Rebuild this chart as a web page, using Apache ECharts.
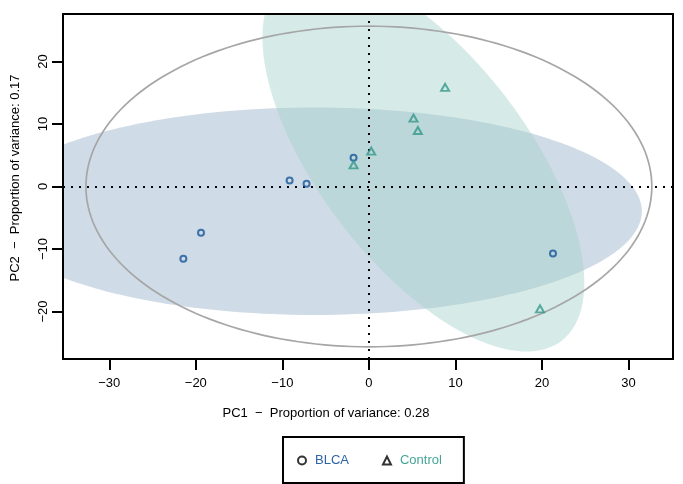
<!DOCTYPE html>
<html>
<head>
<meta charset="utf-8">
<script src="https://cdn.jsdelivr.net/npm/echarts@6/dist/echarts.min.js"></script>
<style>html,body{margin:0;padding:0;background:#fff}#c{width:683px;height:484px}</style>
</head>
<body>
<div id="c"></div>
<script>
// ---- data ----
const blcaPC1 = [-21.44, -19.4, -9.16, -7.2, -1.77, 21.28];
const blcaPC2 = [-11.57, -7.4, 0.96, 0.43, 4.59, -10.72];
const controlPC1 = [-1.77, 0.27, 5.16, 5.66, 8.81, 19.78];
const controlPC2 = [3.47, 5.66, 10.94, 8.96, 15.87, -19.57];
// ellipses: centre x, centre y, half-extent x, half-extent y, correlation
const blcaEllipse = [-6.3, -3.95, 37.85, 16.6, 0.0];
const controlEllipse = [6.3, 4.2, 18.6, 30.6, -0.641];
const overallEllipse = [0, 0, 32.7, 25.65, 0.0];
const xTicks = [-30, -20, -10, 0, 10, 20, 30];
const yTicks = [-20, -10, 0, 10, 20];
const groups = ['BLCA', 'Control'];
const xTitle = 'PC1  \u2212  Proportion of variance: 0.28';
const yTitle = 'PC2  \u2212  Proportion of variance: 0.17';

const FONT = 'Liberation Sans, Arial, sans-serif';
const minus = v => String(v).replace('-', '\u2212');

function ellipseSeries(par, fill, stroke, lw) {
  return {
    type: 'custom', silent: true, clip: true,
    data: [par],
    renderItem: function (params, api) {
      const [cx, cy, a, b, r] = par;
      const pts = [];
      const s = Math.sqrt(1 - r * r);
      for (let i = 0; i < 200; i++) {
        const t = i / 200 * Math.PI * 2;
        pts.push(api.coord([cx + a * Math.cos(t), cy + b * (r * Math.cos(t) + s * Math.sin(t))]));
      }
      const cs = params.coordSys;
      return {
        type: 'polygon',
        shape: { points: pts },
        style: { fill: fill, stroke: stroke, lineWidth: lw },
        clipPath: { type: 'rect', shape: { x: cs.x, y: cs.y, width: cs.width, height: cs.height } }
      };
    }
  };
}

const xMin = -35.35, xMax = 35.15, yMin = -27.6, yMax = 27.6;

const chart = echarts.init(document.getElementById('c'), null, { renderer: 'canvas' });
chart.setOption({
  animation: false,
  backgroundColor: '#fff',
  textStyle: { fontFamily: FONT },
  grid: { left: 63, right: 10, top: 14, bottom: 125, show: false },
  xAxis: [{
    type: 'value', min: xMin, max: xMax, position: 'bottom', z: 10,
    splitLine: { show: false },
    axisLine: { show: true, onZero: false, lineStyle: { color: '#000', width: 2 } },
    axisTick: { show: true, customValues: xTicks, length: 11, lineStyle: { color: '#000', width: 2 } },
    axisLabel: { customValues: xTicks, margin: 18, fontSize: 13, color: '#000', fontFamily: FONT, formatter: minus }
  }, {
    type: 'value', min: xMin, max: xMax, position: 'top', z: 10,
    splitLine: { show: false },
    axisLine: { show: true, onZero: false, lineStyle: { color: '#000', width: 2 } },
    axisTick: { show: false }, axisLabel: { show: false }
  }],
  yAxis: [{
    type: 'value', min: yMin, max: yMax, position: 'left', z: 10,
    splitLine: { show: false },
    axisLine: { show: true, onZero: false, lineStyle: { color: '#000', width: 2 } },
    axisTick: { show: true, customValues: yTicks, length: 11, lineStyle: { color: '#000', width: 2 } },
    axisLabel: { customValues: yTicks, margin: 13, rotate: 90, fontSize: 13, color: '#000', fontFamily: FONT, formatter: minus }
  }, {
    type: 'value', min: yMin, max: yMax, position: 'right', z: 10,
    splitLine: { show: false },
    axisLine: { show: true, onZero: false, lineStyle: { color: '#000', width: 2 } },
    axisTick: { show: false }, axisLabel: { show: false }
  }],
  legend: {
    left: 283, top: 437,
    padding: [17, 22, 16, 14],
    borderColor: '#000', borderWidth: 2, backgroundColor: '#fff',
    itemGap: 33, itemWidth: 8, itemHeight: 8,
    textStyle: { fontSize: 13, fontFamily: FONT, padding: [0, 0, 0, 4] },
    data: [
      { name: 'BLCA', icon: 'circle', itemStyle: { color: 'rgba(0,0,0,0)', borderColor: '#000', borderWidth: 2 }, textStyle: { color: '#2E63A6' } },
      { name: 'Control', icon: 'triangle', itemStyle: { color: 'rgba(0,0,0,0)', borderColor: '#000', borderWidth: 2 }, textStyle: { color: '#46A597' } }
    ]
  },
  graphic: [
    { type: 'text', x: 326, y: 413, style: { text: xTitle, font: '13px ' + FONT, fill: '#000', textAlign: 'center', textVerticalAlign: 'middle' } },
    { type: 'text', x: 15, y: 178, rotation: Math.PI / 2, style: { text: yTitle, font: '13px ' + FONT, fill: '#000', textAlign: 'center', textVerticalAlign: 'middle' } }
  ],
  series: [
    ellipseSeries(blcaEllipse, 'rgba(148,175,200,0.45)', null, 0),
    ellipseSeries(controlEllipse, 'rgba(164,210,204,0.45)', null, 0),
    ellipseSeries(overallEllipse, 'none', '#A6A6A6', 1.7),
    {
      name: groups[0], type: 'scatter', z: 5,
      symbol: 'circle', symbolSize: 6,
      itemStyle: { color: 'rgba(0,0,0,0)', borderColor: '#18569A', borderWidth: 2 },
      data: blcaPC1.map((x, i) => [x, blcaPC2[i]]),
      markLine: {
        silent: true, symbol: 'none', label: { show: false },
        lineStyle: { color: '#000', width: 2, type: [2, 6] },
        data: [{ xAxis: 0 }, { yAxis: 0 }]
      }
    },
    {
      name: groups[1], type: 'scatter', z: 5,
      symbol: 'triangle', symbolSize: [8, 7],
      itemStyle: { color: 'rgba(0,0,0,0)', borderColor: '#34998A', borderWidth: 2 },
      data: controlPC1.map((x, i) => [x, controlPC2[i]])
    }
  ]
});
</script>
</body>
</html>
